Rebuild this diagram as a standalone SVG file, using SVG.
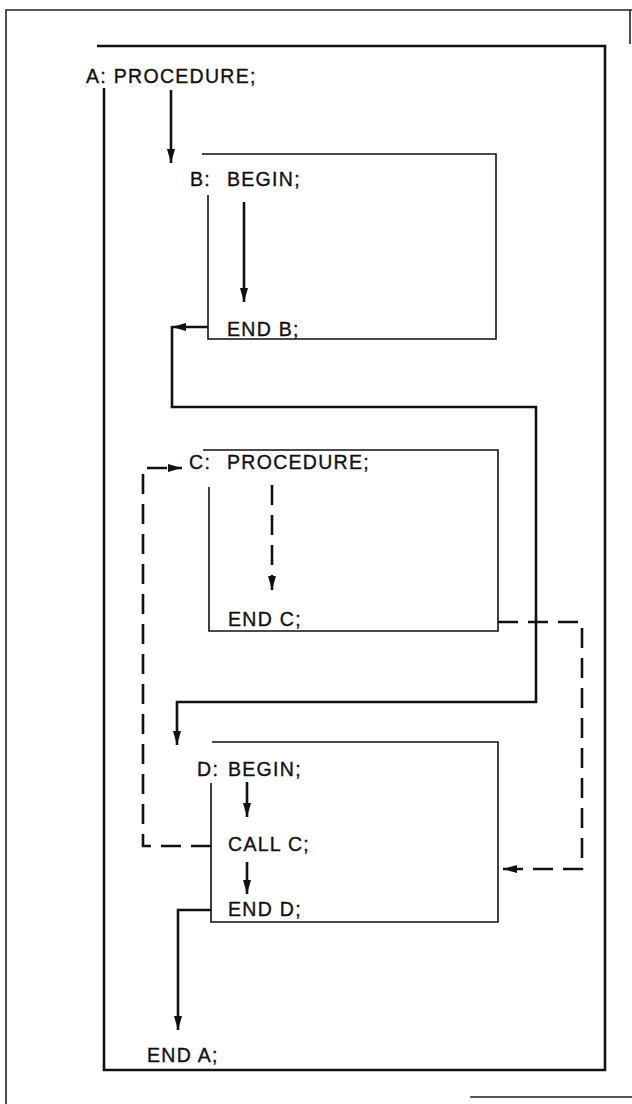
<svg xmlns="http://www.w3.org/2000/svg" width="632" height="1104" viewBox="0 0 632 1104">
<defs>
<style>
.t{font-family:"Liberation Sans",Arial,sans-serif;font-size:19.5px;letter-spacing:1.3px;fill:#111;stroke:#111;stroke-width:0.35}
.frame{fill:none;stroke:#222;stroke-width:1.6}
.blk{fill:none;stroke:#111;stroke-width:2.6}
.inner{fill:none;stroke:#111;stroke-width:1.6}
.flow{fill:none;stroke:#111;stroke-width:2.6}
.dash{fill:none;stroke:#111;stroke-width:2.6;stroke-dasharray:20 10}
</style>
<marker id="ah" viewBox="0 0 14 8" refX="14" refY="4" markerWidth="14" markerHeight="8" markerUnits="userSpaceOnUse" orient="auto">
<path d="M0,0 L14,4 L0,8 z" fill="#111"/>
</marker>
</defs>
<rect width="632" height="1104" fill="#fff"/>
<g id="page-frame">
<path class="frame" d="M6,1104 V10 H632"/>
<path class="frame" d="M630,10 V44"/>
<path class="frame" d="M470,1097 H632" stroke="#555"/>
</g>
<g id="block-A">
<path class="blk" d="M97,46 H605 V1070 H104 V88"/>
<text class="t" x="86" y="83">A: PROCEDURE;</text>
<text class="t" x="147" y="1062">END A;</text>
</g>
<g id="block-B">
<path class="inner" d="M202,154 H496 V339 H208 V195"/>
<text class="t" y="186"><tspan x="190">B:</tspan><tspan x="227">BEGIN;</tspan></text>
<text class="t" x="227" y="336">END B;</text>
</g>
<g id="block-C">
<path class="inner" d="M203,450 H498 V631 H209 V487"/>
<text class="t" y="469"><tspan x="189">C:</tspan><tspan x="227">PROCEDURE;</tspan></text>
<text class="t" x="228" y="626">END C;</text>
</g>
<g id="block-D">
<path class="inner" d="M212,742 H498 V922 H211 V783"/>
<text class="t" y="776"><tspan x="197">D:</tspan><tspan x="228">BEGIN;</tspan></text>
<text class="t" x="228" y="851">CALL C;</text>
<text class="t" x="228" y="916">END D;</text>
</g>
<g id="connectors">
<path class="flow" d="M171,90 V163" marker-end="url(#ah)"/>
<path class="flow" d="M244,202 V302" marker-end="url(#ah)"/>
<path class="flow" d="M208,327 H172" marker-end="url(#ah)"/>
<path class="flow" d="M172,326 V407 H536 V702 H177 V745" marker-end="url(#ah)"/>
<path class="dash" d="M272,485 V590" marker-end="url(#ah)"/>
<path class="dash" d="M498,622 H582 V869 H503" marker-end="url(#ah)"/>
<path class="dash" d="M211,846 H143 V468 H182" marker-end="url(#ah)"/>
<path class="flow" d="M247,782 V817" marker-end="url(#ah)"/>
<path class="flow" d="M247,862 V894" marker-end="url(#ah)"/>
<path class="flow" d="M211,910 H178 V1030" marker-end="url(#ah)"/>
</g>
</svg>
